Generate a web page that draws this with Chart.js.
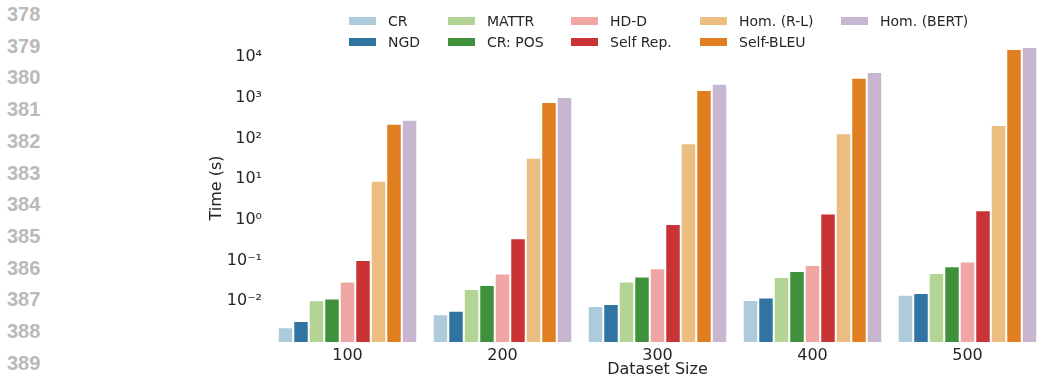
<!DOCTYPE html>
<html>
<head>
<meta charset="utf-8">
<script src="https://cdn.jsdelivr.net/npm/chart.js@4/dist/chart.umd.min.js"></script>
<style>
  body { margin: 0; background: #fff; overflow: hidden; width: 1037px; height: 379px; position: relative; }
  #lines { position: absolute; left: 7px; top: 0; font-family: "Liberation Sans", Arial, sans-serif; font-weight: bold; font-size: 20px; color: #bababa; }
  #lines div { position: absolute; left: 0; height: 20px; line-height: 20px; }
  #wrap { position: absolute; left: 0; top: 0; width: 1045px; height: 379px; }
  #legend { position: absolute; left: 349px; top: 10px; display: grid; grid-auto-flow: column;
            grid-template-rows: 21px 21px; grid-template-columns: 99px 123px 129px 141px auto;
            font-family: "DejaVu Sans", sans-serif; font-size: 14px; color: #262626; }
  #legend .item { display: flex; align-items: center; white-space: nowrap; }
  #legend .sw { width: 27px; height: 8px; margin-right: 12px; }
</style>
</head>
<body>
<div id="lines"></div>
<div id="wrap"><canvas id="chart"></canvas></div>
<div id="legend"></div>
<script>
// line numbers at the left margin of the page
var lineNumbers = [378, 379, 380, 381, 382, 383, 384, 385, 386, 387, 388, 389];

// x categories
var sizes = ["100", "200", "300", "400", "500"];

// series (time in seconds)
var names = ["CR", "NGD", "MATTR", "CR: POS", "HD-D", "Self Rep.", "Hom. (R-L)", "Self-BLEU", "Hom. (BERT)"];
var cr        = [0.0023, 0.0048, 0.0077, 0.0108, 0.0144];
var ngd       = [0.0033, 0.0059, 0.0086, 0.0124, 0.0161];
var mattr     = [0.0106, 0.0202, 0.0305, 0.0398, 0.0499];
var crPos     = [0.0117, 0.0253, 0.0407, 0.0558, 0.0727];
var hdd       = [0.0306, 0.048, 0.065, 0.078, 0.0946];
var selfRep   = [0.104, 0.355, 0.80, 1.43, 1.73];
var homRL     = [9.2, 34, 77, 135, 216];
var selfBleu  = [232, 794, 1560, 3140, 15900];
var homBert   = [292, 1050, 2230, 4330, 17800];

var colors = ['#aecbdb', '#3274a1', '#b3d495', '#40913b', '#efa6a5', '#ca3335', '#ebbd81', '#df7f20', '#c8b6d1'];

var lineBox = document.getElementById("lines");
for (let i = 0; i < lineNumbers.length; ++i) {
    var d = document.createElement("div");
    d.textContent = lineNumbers[i];
    d.style.top = (4 + i * 31.7) + "px";
    lineBox.appendChild(d);
}

function createData(label, data, color) {
    return {
        label: label,
        data: data,
        backgroundColor: color,
        borderColor: '#ffffff',
        borderWidth: 1,
        borderSkipped: 'start',
        barPercentage: 1.0,
        categoryPercentage: 0.9
    };
}

var series = [cr, ngd, mattr, crPos, hdd, selfRep, homRL, selfBleu, homBert];
var datasets = [];
for (let i = 0; i < series.length; ++i) {
    datasets.push(createData(names[i], series[i], colors[i]));
}

var sup = { "-": "\u207B", "0": "\u2070", "1": "\u00B9", "2": "\u00B2", "3": "\u00B3", "4": "\u2074" };
function powLabel(v) {
    var k = String(Math.round(Math.log10(v)));
    var s = "";
    for (var c of k) s += sup[c];
    return "10" + s;
}

Chart.defaults.font.family = "'DejaVu Sans', sans-serif";
Chart.defaults.color = '#262626';

var chart = new Chart(document.getElementById("chart"), {
    type: 'bar',
    data: { labels: sizes, datasets: datasets },
    options: {
        responsive: true,
        maintainAspectRatio: false,
        animation: false,
        layout: { padding: { left: 207, right: 0, top: 34, bottom: 0 } },
        plugins: { legend: { display: false }, tooltip: { enabled: false } },
        scales: {
            x: {
                grid: { display: false, drawTicks: false },
                border: { display: false },
                ticks: { font: { size: 16 }, padding: 4, maxRotation: 0 },
                title: { display: true, text: 'Dataset Size', font: { size: 16 }, padding: 0 },
                afterFit: function (axis) { axis.height = 37; }
            },
            y: {
                type: 'logarithmic',
                min: 0.001,
                max: 37150,
                grid: { display: false, drawTicks: false },
                border: { display: false },
                ticks: {
                    font: { size: 16 },
                    padding: 8,
                    callback: function (v) { return powLabel(v); }
                },
                afterBuildTicks: function (axis) {
                    var t = [];
                    for (let k = -2; k <= 4; ++k) t.push({ value: Math.pow(10, k) });
                    axis.ticks = t;
                },
                title: { display: true, text: 'Time (s)', font: { size: 16 }, padding: 0 },
                afterFit: function (axis) { axis.width = 63; }
            }
        }
    }
});

// legend in matplotlib column order
var legend = document.getElementById("legend");
chart.data.datasets.forEach(function (ds) {
    var item = document.createElement("div");
    item.className = "item";
    var sw = document.createElement("span");
    sw.className = "sw";
    sw.style.background = ds.backgroundColor;
    item.appendChild(sw);
    item.appendChild(document.createTextNode(ds.label));
    legend.appendChild(item);
});
</script>
</body>
</html>
